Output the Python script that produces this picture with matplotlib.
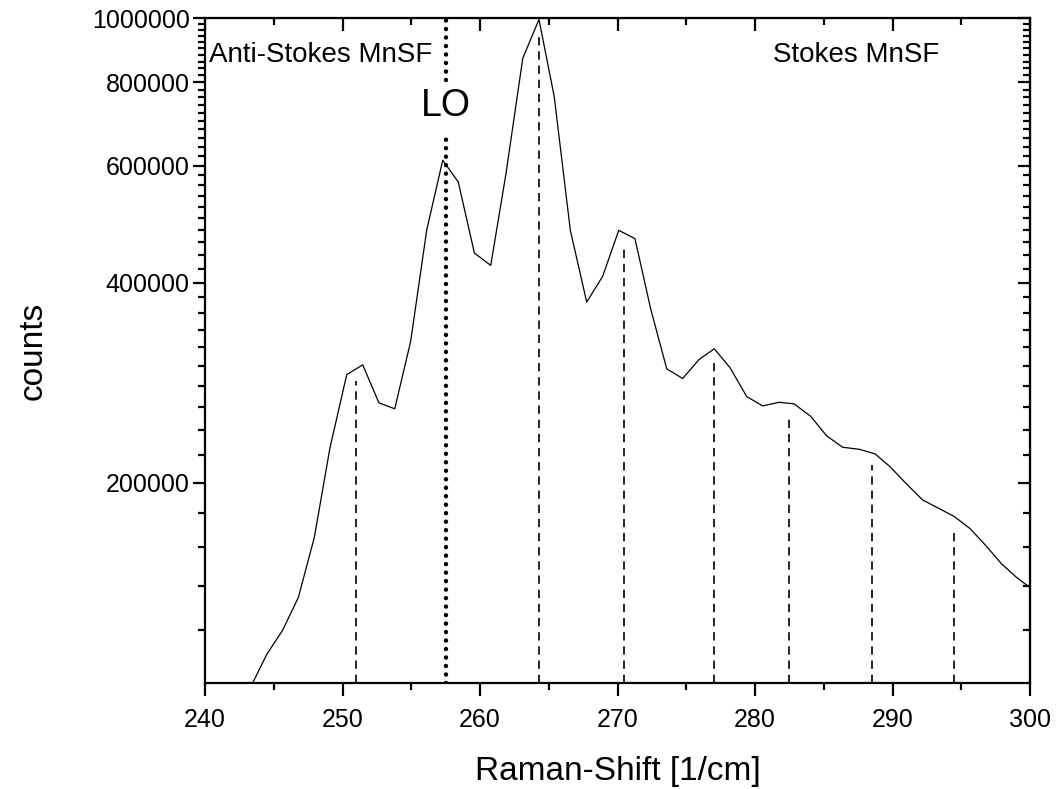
import numpy as np
import matplotlib
matplotlib.use("Agg")
import matplotlib.pyplot as plt
from matplotlib.ticker import FixedLocator, NullFormatter

plt.rcParams['font.family'] = ['Liberation Sans', 'DejaVu Sans']

# Raman-Spektrum (Verschiebung in 1/cm, Zählrate)
shift = [243.32, 244.49, 245.65, 246.79, 247.95, 249.09, 250.31, 251.47, 252.65,
         253.80, 254.96, 256.12, 257.29, 258.42, 259.59, 260.78, 261.89, 263.11,
         264.29, 265.40, 266.57, 267.76, 268.92, 270.09, 271.27, 272.41, 273.58,
         274.74, 275.93, 277.04, 278.18, 279.40, 280.56, 281.75, 282.84, 284.05,
         285.21, 286.38, 287.59, 288.73, 289.82, 290.98, 292.20, 293.38, 294.49,
         295.64, 296.80, 297.94, 299.03, 300.00]
counts = [98600, 110400, 120100, 134500, 165500, 225900, 290900, 300900, 263800,
          258400, 326600, 479400, 611100, 566800, 443200, 424600, 583500, 869700,
          995000, 761300, 479400, 373900, 408800, 479400, 465800, 365500, 296800,
          287000, 306500, 318100, 298000, 269600, 261000, 264300, 262900, 251800,
          235300, 226200, 224600, 221100, 211500, 199600, 188400, 183000, 178000,
          170700, 160800, 151000, 144100, 139200]

# Positionen der MnSF-Linien und der LO-Phonon-Linie
mnsf_lines = [251.0, 264.3, 270.5, 277.0, 282.5, 288.5, 294.5]
lo_line = 257.5

y_major = [200000, 400000, 600000, 800000, 1000000]
y_minor = [v for v in range(120000, 1000000, 20000) if v % 200000 != 0]

fig = plt.figure(figsize=(10.58, 7.89), dpi=100)
ax = fig.add_axes([205 / 1058, 1 - 683 / 789, 825 / 1058, 665 / 789])

ax.plot(shift, counts, color='black', lw=0.9)

# gestrichelte Linien bis knapp unter die Kurve
tops = np.interp(mnsf_lines, shift, counts) * 0.96
ax.vlines(mnsf_lines, 100000, tops, colors='black', linestyles=(0, (5, 3.5)), lw=1.2)

# LO-Linie, mit Lücke für die Beschriftung
for y0, y1 in [(100000, 673000), (806000, 1000000)]:
    ax.plot([lo_line, lo_line], [y0, y1], color='black', lw=3.2,
            linestyle=(0, (0.01, 1.9)), dash_capstyle='round')
ax.text(lo_line, 738000, 'LO', ha='center', va='center', fontsize=27)

ax.text(0.005, 0.944, 'Anti-Stokes MnSF', transform=ax.transAxes, ha='left',
        va='center', fontsize=20)
ax.text(0.688, 0.944, 'Stokes MnSF', transform=ax.transAxes, ha='left',
        va='center', fontsize=20)

ax.set_yscale('log')
ax.set_xlim(240, 300)
ax.set_ylim(100000, 1000000)

ax.set_xticks(np.arange(240, 301, 10))
ax.xaxis.set_minor_locator(FixedLocator(np.arange(245, 300, 10)))
ax.yaxis.set_major_locator(FixedLocator(y_major))
ax.yaxis.set_minor_locator(FixedLocator(y_minor))
ax.yaxis.set_minor_formatter(NullFormatter())
ax.set_yticklabels([str(v) for v in y_major])

for s in ax.spines.values():
    s.set_linewidth(1.6)
ax.tick_params(which='major', direction='out', length=9, width=1.6, labelsize=18, pad=2)
ax.tick_params(axis='x', which='major', pad=9)
ax.tick_params(which='minor', direction='out', length=5, width=1.6)

# gespiegelte Achsen oben und rechts, Ticks nach innen
top = ax.secondary_xaxis('top')
top.set_xticks(np.arange(240, 301, 10))
top.xaxis.set_minor_locator(FixedLocator(np.arange(245, 300, 10)))
top.tick_params(which='major', direction='in', length=9, width=1.6, labeltop=False)
top.tick_params(which='minor', direction='in', length=5, width=1.6)

right = ax.secondary_yaxis('right')
right.yaxis.set_major_locator(FixedLocator(y_major))
right.yaxis.set_minor_locator(FixedLocator(y_minor))
right.tick_params(which='major', direction='in', length=9, width=1.6, labelright=False)
right.tick_params(which='minor', direction='in', length=5, width=1.6, labelright=False)
right.yaxis.set_minor_formatter(NullFormatter())

ax.set_xlabel('Raman-Shift [1/cm]', fontsize=24, labelpad=17)
ax.set_ylabel('counts', fontsize=24, labelpad=31)

fig.savefig('out.png', dpi=100)
